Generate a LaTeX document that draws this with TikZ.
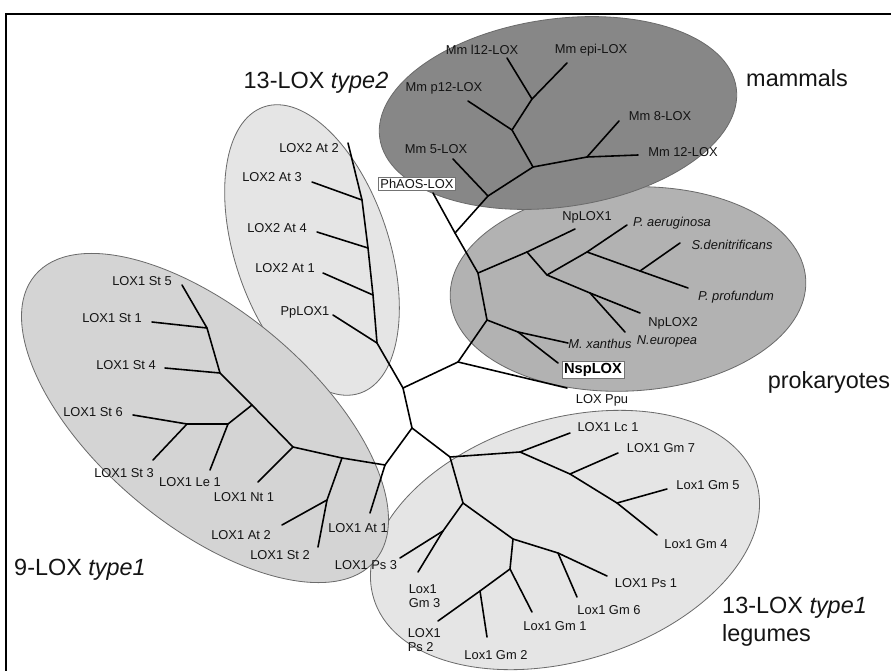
\documentclass[tikz,border=0pt]{standalone}
\usepackage{fontspec}
\setmainfont{Liberation Sans}
\usetikzlibrary{positioning}

\begin{document}
\begin{tikzpicture}[
    x=0.03cm, y=-0.03cm,
    clade/.style={draw=black!58, line width=0.7pt},
    branch/.style={draw=black, line width=1.35pt, line cap=round, line join=round},
    lbl/.style={font=\fontsize{11}{12.5}\selectfont, text=black!92, inner sep=0.5pt},
    ilbl/.style={lbl, font=\fontsize{11}{12.5}\selectfont\itshape},
    boxlbl/.style={lbl, draw=black!55, fill=white, line width=0.6pt, inner sep=1.5pt},
    grp/.style={font=\fontsize{20}{24}\selectfont, text=black!92, inner sep=0pt, align=left}
]
\useasboundingbox (0,0) rectangle (891,671);

% --- Rahmen ---
\draw[line width=1.7pt] (6,671) -- (6,14) -- (891,14);

% --- Gruppen (Ellipsen) ---
\draw[clade, fill=black!10, rotate around={17:(565,540)}] (565,540) ellipse [x radius=200, y radius=121];
\draw[clade, fill=black!10, rotate around={18.5:(312,250)}] (312,250) ellipse [x radius=77, y radius=151];
\draw[clade, fill=black!17, rotate around={-40:(205,418)}] (205,418) ellipse [x radius=222, y radius=107];
\draw[clade, fill=black!30, rotate around={3:(628,289)}] (628,289) ellipse [x radius=178, y radius=102];
\draw[clade, fill=black!47, rotate around={8:(558,113)}] (558,113) ellipse [x radius=180, y radius=94];

% --- Knoten des Baums ---
\coordinate (J1) at (455,233);
\coordinate (J2) at (478,273);
\coordinate (J3) at (487,320);
\coordinate (J4) at (458,362);
\coordinate (J5) at (403,388);
\coordinate (J6) at (412,428);
\coordinate (J7) at (385,465);
\coordinate (J8) at (450,457);
\coordinate (tPh) at (433,193);

% mammals
\coordinate (mA) at (488,196);
\coordinate (mB) at (533,167);
\coordinate (mC) at (512,130);
\coordinate (mD) at (587,157);
\coordinate (mE) at (532,99);
\coordinate (tM5) at (453,159);
\coordinate (tMp12) at (468,101);
\coordinate (tMl12) at (507,58);
\coordinate (tMepi) at (567,63);
\coordinate (tM8) at (619,121);
\coordinate (tM12) at (638,155);

% prokaryotes
\coordinate (pA) at (527,252);
\coordinate (pB) at (547,275);
\coordinate (pC) at (587,252);
\coordinate (pD) at (590,293);
\coordinate (pE) at (640,271);
\coordinate (pF) at (518,332);
\coordinate (tNp1) at (575,229);
\coordinate (tPae) at (627,225);
\coordinate (tSde) at (680,243);
\coordinate (tPpr) at (688,288);
\coordinate (tNp2) at (640,313);
\coordinate (tNeu) at (625,332);
\coordinate (tMxa) at (568,343);
\coordinate (tNsp) at (558,363);
\coordinate (tPpu) at (567,388);

% 13-LOX type2
\coordinate (T0) at (377,343);
\coordinate (T1) at (373,295);
\coordinate (T2) at (368,248);
\coordinate (T3) at (362,200);
\coordinate (tPp) at (333,315);
\coordinate (tA1) at (323,273);
\coordinate (tA4) at (317,232);
\coordinate (tA3) at (312,182);
\coordinate (tA2) at (348,143);

% 9-LOX type1
\coordinate (N1) at (342,458);
\coordinate (N1b) at (327,500);
\coordinate (N2) at (293,447);
\coordinate (N3) at (252,405);
\coordinate (N4) at (228,424);
\coordinate (N5) at (187,424);
\coordinate (N6) at (220,373);
\coordinate (N7) at (207,328);
\coordinate (tAt1) at (370,513);
\coordinate (tSt2) at (318,547);
\coordinate (tAt2) at (282,525);
\coordinate (tNt1) at (258,482);
\coordinate (tLe1) at (210,470);
\coordinate (tSt6) at (133,415);
\coordinate (tSt3) at (153,460);
\coordinate (tSt4) at (165,368);
\coordinate (tSt1) at (152,322);
\coordinate (tSt5) at (182,285);

% legumes
\coordinate (L1) at (520,452);
\coordinate (L2) at (463,503);
\coordinate (L3) at (570,474);
\coordinate (L4) at (617,503);
\coordinate (L5) at (443,531);
\coordinate (L6) at (513,539);
\coordinate (L7) at (558,553);
\coordinate (L8) at (510,569);
\coordinate (L9) at (480,591);
\coordinate (tLc1) at (570,433);
\coordinate (tGm7) at (618,453);
\coordinate (tGm5) at (667,489);
\coordinate (tGm4) at (657,535);
\coordinate (tPs3) at (400,558);
\coordinate (tGm3) at (418,572);
\coordinate (tPs1) at (607,576);
\coordinate (tGm6) at (577,597);
\coordinate (tGm1) at (532,612);
\coordinate (tPs2) at (438,621);
\coordinate (tGm2) at (487,637);

% --- Zweige ---
\draw[branch] (tPh) -- (J1) -- (J2) -- (J3) -- (J4) -- (J5) -- (J6) -- (J7);
\draw[branch] (J5) -- (T0);
\draw[branch] (J6) -- (J8);
\draw[branch] (J4) -- (tPpu);

\draw[branch] (J1) -- (mA) -- (mB) -- (mC) -- (mE) -- (tMl12);
\draw[branch] (mA) -- (tM5);
\draw[branch] (mC) -- (tMp12);
\draw[branch] (mE) -- (tMepi);
\draw[branch] (mB) -- (mD) -- (tM12);
\draw[branch] (mD) -- (tM8);

\draw[branch] (J2) -- (pA) -- (tNp1);
\draw[branch] (pA) -- (pB) -- (pC) -- (tPae);
\draw[branch] (pC) -- (pE) -- (tPpr);
\draw[branch] (pE) -- (tSde);
\draw[branch] (pB) -- (pD) -- (tNp2);
\draw[branch] (pD) -- (tNeu);
\draw[branch] (J3) -- (pF) -- (tMxa);
\draw[branch] (pF) -- (tNsp);

\draw[branch] (T0) -- (T1) -- (T2) -- (T3) -- (tA2);
\draw[branch] (T0) -- (tPp);
\draw[branch] (T1) -- (tA1);
\draw[branch] (T2) -- (tA4);
\draw[branch] (T3) -- (tA3);

\draw[branch] (J7) -- (tAt1);
\draw[branch] (J7) -- (N1) -- (N2) -- (N3) -- (N6) -- (N7) -- (tSt5);
\draw[branch] (N1) -- (N1b) -- (tSt2);
\draw[branch] (N1b) -- (tAt2);
\draw[branch] (N2) -- (tNt1);
\draw[branch] (N3) -- (N4) -- (N5) -- (tSt6);
\draw[branch] (N4) -- (tLe1);
\draw[branch] (N5) -- (tSt3);
\draw[branch] (N6) -- (tSt4);
\draw[branch] (N7) -- (tSt1);

\draw[branch] (J8) -- (L1) -- (L3) -- (L4) -- (tGm4);
\draw[branch] (L1) -- (tLc1);
\draw[branch] (L3) -- (tGm7);
\draw[branch] (L4) -- (tGm5);
\draw[branch] (J8) -- (L2) -- (L5) -- (tPs3);
\draw[branch] (L5) -- (tGm3);
\draw[branch] (L2) -- (L6) -- (L7) -- (tPs1);
\draw[branch] (L7) -- (tGm6);
\draw[branch] (L6) -- (L8) -- (tGm1);
\draw[branch] (L8) -- (L9) -- (tPs2);
\draw[branch] (L9) -- (tGm2);

% --- Beschriftungen ---
\node[boxlbl] (phaos) at (417,184) {PhAOS-LOX};
\node[boxlbl, font=\fontsize{12.5}{14}\selectfont\bfseries, text=black, inner sep=1.8pt] (nsplox) at (593,370) {NspLOX};
\node[lbl] (ppu) at (602,400) {LOX Ppu};

\node[lbl] (ml12) at (482,50) {Mm l12-LOX};
\node[lbl] (mepi) at (591,50) {Mm epi-LOX};
\node[lbl] (mp12) at (444,88) {Mm p12-LOX};
\node[lbl] (m5) at (436,149) {Mm 5-LOX};
\node[lbl] (m8) at (660,116) {Mm 8-LOX};
\node[lbl] (m12) at (683,152) {Mm 12-LOX};

\node[lbl] (np1) at (587,217) {NpLOX1};
\node[ilbl] (pae) at (672,223) {P. aeruginosa};
\node[ilbl] (sde) at (732,245) {S.denitrificans};
\node[ilbl] (ppr) at (736,297) {P. profundum};
\node[lbl] (np2) at (673,323) {NpLOX2};
\node[ilbl] (neu) at (667,341) {N.europea};
\node[ilbl] (mxa) at (600,344) {M. xanthus};

\node[lbl] (a2) at (309,148) {LOX2 At 2};
\node[lbl] (a3) at (272,177) {LOX2 At 3};
\node[lbl] (a4) at (277,228) {LOX2 At 4};
\node[lbl] (a1) at (285,268) {LOX2 At 1};
\node[lbl] (pp) at (305,312) {PpLOX1};

\node[lbl] (st5) at (142,281) {LOX1 St 5};
\node[lbl] (st1) at (112,318) {LOX1 St 1};
\node[lbl] (st4) at (126,365) {LOX1 St 4};
\node[lbl] (st6) at (93,412) {LOX1 St 6};
\node[lbl] (st3) at (124,473) {LOX1 St 3};
\node[lbl] (le1) at (190,482) {LOX1 Le 1};
\node[lbl] (nt1) at (244,497) {LOX1 Nt 1};
\node[lbl] (at2) at (241,535) {LOX1 At 2};
\node[lbl] (st2) at (280,555) {LOX1 St 2};
\node[lbl] (at1) at (358,528) {LOX1 At 1};
\node[lbl] (ps3) at (366,565) {LOX1 Ps 3};

\node[lbl] (lc1) at (608,427) {LOX1 Lc 1};
\node[lbl] (gm7) at (661,448) {LOX1 Gm 7};
\node[lbl] (gm5) at (708,485) {Lox1 Gm 5};
\node[lbl] (gm4) at (696,544) {Lox1 Gm 4};
\node[lbl] (ps1) at (646,583) {LOX1 Ps 1};
\node[lbl] (gm6) at (609,610) {Lox1 Gm 6};
\node[lbl] (gm1) at (555,626) {Lox1 Gm 1};
\node[lbl] (gm2) at (496,655) {Lox1 Gm 2};
\node[lbl, align=left, anchor=west] (gm3) at (408,596) {Lox1\\Gm 3};
\node[lbl, align=left, anchor=west] (ps2) at (407,640) {LOX1\\Ps 2};

% --- Gruppennamen ---
\node[grp] (gmam) at (797,78) {mammals};
\node[grp] (gpro) at (829,382) {prokaryotes};
\node[grp] (gt2) at (316,83) {13-LOX \textit{type2}};
\node[grp] (g9) at (80,570) {9-LOX \textit{type1}};
\node[grp, anchor=west] (gleg) at (722,622) {13-LOX \textit{type1}\\legumes};

\end{tikzpicture}
\end{document}
